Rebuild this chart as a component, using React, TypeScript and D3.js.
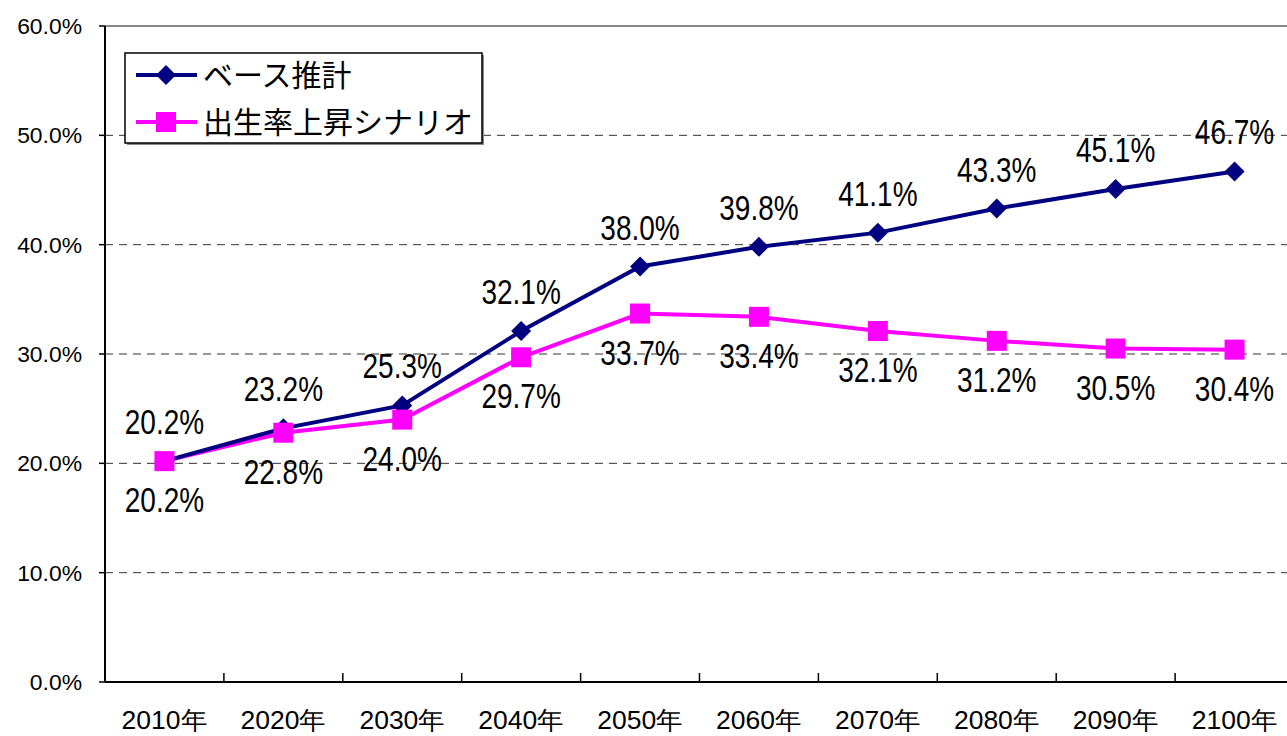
import React from "react";
import * as d3 from "d3";

const categories = ["2010年", "2020年", "2030年", "2040年", "2050年", "2060年", "2070年", "2080年", "2090年", "2100年"];
const baseSeries = [20.2, 23.2, 25.3, 32.1, 38.0, 39.8, 41.1, 43.3, 45.1, 46.7];
const scenarioSeries = [20.2, 22.8, 24.0, 29.7, 33.7, 33.4, 32.1, 31.2, 30.5, 30.4];
const yTicks = [0, 10, 20, 30, 40, 50, 60];
const seriesNames = ["ベース推計", "出生率上昇シナリオ"];

const W = 1287;
const H = 736;
const left = 105;
const band = 118.9;
const NUM_FONT = "'Liberation Sans', Arial, sans-serif";
const JP_FONT = "'Noto Sans CJK JP', sans-serif";

function NarrowText({ x, y, size, sx, anchor, children }: { x: number; y: number; size: number; sx: number; anchor: string; children: React.ReactNode }) {
  return (
    <g transform={`translate(${x},${y}) scale(${sx},1)`}>
      <text x={0} y={0} textAnchor={anchor as any} fontFamily={NUM_FONT} fontSize={size} fill="#000">
        {children}
      </text>
    </g>
  );
}

export default function App() {
  const x = d3.scaleBand<string>().domain(categories).range([left, left + band * categories.length]);
  const y = d3.scaleLinear().domain([0, 60]).range([682, 26]);
  const cx = (c: string) => (x(c) as number) + x.bandwidth() / 2;
  const line = d3.line<number>().x((_, i) => cx(categories[i])).y((d) => y(d));
  const right = left + band * categories.length;

  const diamond = (px: number, py: number, r = 10) => `M${px},${py - r}L${px + r},${py}L${px},${py + r}L${px - r},${py}Z`;

  return (
    <svg width={W} height={H} style={{ position: "absolute", left: 0, top: 0, background: "#fff" }}>
      <rect x={0} y={0} width={W} height={H} fill="#fff" />
      {yTicks.filter((t) => t > 0 && t < 60).map((t) => (
        <line key={t} x1={left} x2={right} y1={y(t)} y2={y(t)} stroke="#333" strokeWidth={1} strokeDasharray="8,6" />
      ))}
      <line x1={left} x2={right} y1={y(60)} y2={y(60)} stroke="#888" strokeWidth={2} />
      <line x1={left} x2={left} y1={y(60)} y2={y(0)} stroke="#000" strokeWidth={2} />
      <line x1={left} x2={right} y1={y(0)} y2={y(0)} stroke="#000" strokeWidth={2} />
      {yTicks.map((t) => (
        <g key={t}>
          <line x1={left - 6} x2={left} y1={y(t)} y2={y(t)} stroke="#000" strokeWidth={1.5} />
          <NarrowText x={82} y={y(t) + 8} size={22} sx={1.04} anchor="end">
            {t.toFixed(1)}%
          </NarrowText>
        </g>
      ))}
      {categories.map((c, i) => (
        <g key={c}>
          {i > 0 && <line x1={x(c)} x2={x(c)} y1={y(0) - 9} y2={y(0)} stroke="#000" strokeWidth={1.5} />}
          <NarrowText x={cx(c)} y={729} size={25} sx={1.06} anchor="middle">
            {c}
          </NarrowText>
        </g>
      ))}
      <path d={line(scenarioSeries) || ""} fill="none" stroke="#ff00ff" strokeWidth={4} />
      <path d={line(baseSeries) || ""} fill="none" stroke="#000080" strokeWidth={4} />
      {baseSeries.map((v, i) => (
        <path key={"b" + i} d={diamond(cx(categories[i]), y(v))} fill="#000080" />
      ))}
      {scenarioSeries.map((v, i) => (
        <rect key={"s" + i} x={cx(categories[i]) - 10} y={y(v) - 10} width={20} height={20} fill="#ff00ff" />
      ))}
      {baseSeries.map((v, i) => (
        <NarrowText key={"bl" + i} x={cx(categories[i])} y={y(v) - 27} size={35} sx={0.8} anchor="middle">
          {v.toFixed(1)}%
        </NarrowText>
      ))}
      {scenarioSeries.map((v, i) => (
        <NarrowText key={"sl" + i} x={cx(categories[i])} y={y(v) + 51} size={35} sx={0.8} anchor="middle">
          {v.toFixed(1)}%
        </NarrowText>
      ))}
      <rect x={127} y={55} width={357} height={90} fill="#888" />
      <rect x={125} y={53} width={357} height={90} fill="#fff" stroke="#000" strokeWidth={1.5} />
      <line x1={136} x2={197} y1={75} y2={75} stroke="#000080" strokeWidth={4} />
      <path d={diamond(166, 75)} fill="#000080" />
      <text x={203} y={86} fontFamily={JP_FONT} fontSize={30} fill="#000">{seriesNames[0]}</text>
      <line x1={136} x2={197} y1={122} y2={122} stroke="#ff00ff" strokeWidth={4} />
      <rect x={156} y={112} width={20} height={20} fill="#ff00ff" />
      <text x={203} y={133} fontFamily={JP_FONT} fontSize={30} fill="#000">{seriesNames[1]}</text>
    </svg>
  );
}
